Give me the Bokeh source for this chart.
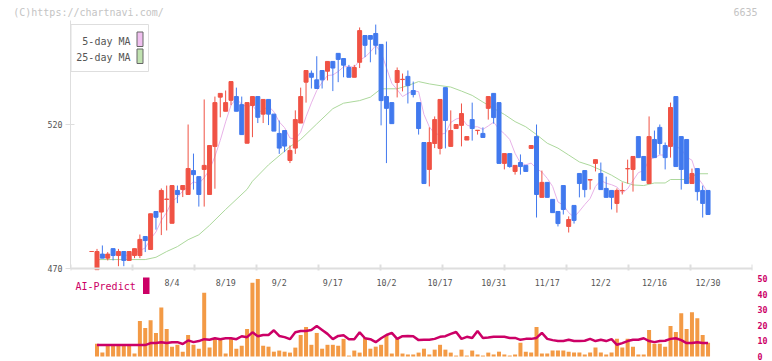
import pandas as pd
from bokeh.plotting import figure
from bokeh.models import Range1d, LinearAxis, FixedTicker, Span, ColumnDataSource
from bokeh.core.properties import value
from bokeh.embed import file_html
from bokeh.resources import INLINE

# ---------------- data ----------------
HOLIDAYS = ["2025-07-21", "2025-08-11", "2025-09-15", "2025-09-23",
            "2025-10-13", "2025-11-03", "2025-11-24"]
dates = pd.bdate_range("2025-07-11", "2025-12-30", freq="C", holidays=HOLIDAYS)
date_labels = [f"{d.month}/{d.day}" for d in dates]

x_tick_labels = ["8/4", "8/19", "9/2", "9/17", "10/2", "10/17",
                 "10/31", "11/17", "12/2", "12/16", "12/30"]

opens = [475.9, 469.6, 475.0, 473.6, 476.9, 474.5, 475.9, 472.8, 474.5, 474.5,
         481.1, 476.6, 489.8, 489.6, 494.0, 485.7, 497.1, 497.4, 495.7, 504.0,
         501.9, 504.4, 495.7, 512.4, 529.5, 524.6, 528.4, 529.7, 526.9, 513.5,
         526.6, 529.7, 523.6, 528.7, 523.6, 516.9, 517.9, 507.5, 511.8, 520.5,
         534.7, 537.8, 535.5, 538.75, 538.5, 541.9, 544.7, 542.9, 539.8, 536.4,
         541.6, 550.9, 550.9, 551.6, 547.8, 529.7, 527.6, 534.6, 535.6, 536.7,
         531.8, 527.6, 513.75, 504.4, 513.4, 511.7, 532.8, 512.4, 518.6, 519.7,
         514.6, 521.7, 517.9, 516.9, 525.6, 530.8, 527.6, 506.5, 509.9, 503.7,
         506.8, 505.8, 511.7, 515.8, 494.7, 499.9, 494.0, 489.8, 498.8, 484.6,
         491.9, 503.0, 504.0, 500.7, 506.5, 503.0, 497.8, 497.1, 492.6, 497.0,
         504.6, 504.4, 515.8, 508.9, 499.5, 514.8, 519.0, 512.7, 512.4, 529.7,
         515.8, 514.8, 499.5, 504.7, 497.1, 497.1]
closes = [475.9, 475.9, 473.6, 475.0, 474.5, 475.9, 472.8, 475.9, 476.9, 480.1,
          479.7, 489.0, 487.8, 497.1, 494.1, 498.8, 495.7, 498.8, 504.7, 502.6,
          495.7, 505.8, 512.7, 527.6, 530.8, 527.6, 534.9, 524.6, 516.5, 527.6,
          529.7, 522.5, 528.7, 523.6, 517.7, 511.8, 512.5, 511.0, 521.7, 529.7,
          538.75, 536.4, 532.5, 535.5, 541.9, 539.6, 542.6, 540.6, 536.4, 539.8,
          552.6, 547.5, 549.6, 547.5, 528.3, 525.6, 520.3, 538.75, 535.7, 533.5,
          530.4, 518.6, 499.5, 513.75, 521.7, 528.7, 521.4, 517.9, 520.0, 523.8,
          515.8, 518.6, 518.0, 515.5, 529.7, 522.4, 506.5, 509.9, 505.4, 505.8,
          505.4, 503.7, 512.7, 495.7, 499.9, 494.7, 489.4, 485.6, 490.5, 487.0,
          486.7, 499.5, 497.4, 500.9, 507.8, 497.4, 494.7, 494.7, 497.1, 497.1,
          504.7, 508.9, 508.5, 500.6, 515.8, 508.5, 513.4, 508.5, 525.9, 505.4,
          504.4, 499.5, 503.0, 496.7, 492.6, 488.75]
highs = [475.9, 476.8, 478.0, 475.7, 476.9, 476.8, 475.9, 475.9, 476.9, 481.8,
         481.1, 489.0, 489.8, 497.8, 498.8, 498.8, 498.8, 498.8, 520.0, 509.9,
         501.9, 528.7, 512.7, 529.7, 530.8, 531.8, 534.9, 532.8, 529.7, 527.6,
         529.7, 529.7, 528.7, 528.7, 523.6, 521.4, 517.9, 512.7, 524.9, 532.8,
         538.75, 538.75, 543.7, 538.75, 541.9, 541.9, 544.7, 542.9, 540.7, 540.7,
         553.7, 550.9, 550.9, 554.7, 547.8, 548.8, 527.6, 539.8, 537.7, 538.75,
         534.9, 527.6, 513.75, 519.0, 522.8, 528.7, 532.8, 524.9, 520.0, 527.3,
         515.8, 527.6, 518.0, 519.0, 529.7, 530.8, 527.6, 509.9, 509.9, 505.8,
         509.6, 505.8, 512.7, 520.0, 504.0, 499.9, 494.0, 489.8, 498.8, 488.1,
         491.9, 503.0, 504.0, 500.9, 507.8, 506.8, 501.9, 497.1, 497.8, 499.9,
         507.8, 508.9, 515.8, 508.9, 522.8, 517.9, 520.0, 513.75, 527.6, 529.7,
         515.8, 514.8, 504.7, 504.7, 498.8, 497.1]
lows = [475.9, 469.5, 473.6, 472.8, 472.8, 470.8, 470.8, 472.8, 473.6, 473.6,
        475.7, 476.6, 483.5, 481.6, 483.2, 485.7, 492.7, 494.8, 495.7, 497.4,
        491.5, 491.5, 495.7, 497.7, 522.5, 524.6, 526.7, 524.6, 516.5, 513.5,
        515.6, 520.5, 520.5, 519.8, 517.7, 509.8, 510.4, 506.6, 509.8, 520.5,
        527.6, 532.5, 532.5, 532.5, 535.3, 531.6, 534.7, 536.4, 536.4, 536.4,
        539.6, 543.4, 541.6, 544.3, 519.7, 506.6, 520.3, 529.4, 531.5, 527.3,
        529.4, 516.5, 499.5, 498.5, 511.8, 509.6, 511.7, 512.4, 518.6, 512.4,
        514.6, 514.4, 516.5, 515.5, 521.7, 520.3, 506.5, 504.4, 505.0, 502.6,
        502.6, 503.7, 511.7, 487.7, 494.7, 494.7, 489.4, 484.6, 488.75, 482.5,
        485.6, 494.7, 494.7, 497.4, 503.7, 497.4, 494.7, 490.5, 489.4, 495.7,
        499.5, 496.7, 508.5, 500.6, 499.5, 508.5, 509.6, 504.4, 508.5, 505.4,
        497.4, 499.5, 499.5, 493.6, 487.7, 488.75]

NaN = float("nan")
ma5 = [NaN, NaN, NaN, NaN,
       475.0, 475.0, 474.4, 474.8, 475.2, 476.3, 477.1, 480.3, 482.7, 486.7,
       489.5, 493.3, 494.7, 496.9, 498.4, 500.1, 499.5, 501.5, 504.3, 508.9,
       514.5, 520.9, 526.7, 529.1, 526.9, 526.2, 526.7, 524.2, 525.0, 526.4,
       524.4, 520.9, 518.9, 515.3, 514.9, 517.3, 522.7, 527.5, 531.8, 534.6,
       537.0, 537.2, 538.4, 540.0, 540.2, 539.8, 542.4, 543.4, 545.2, 547.4,
       545.1, 539.7, 534.3, 532.1, 529.7, 530.8, 531.7, 531.4, 523.5, 519.2,
       516.8, 516.5, 517.0, 520.7, 521.9, 522.4, 519.8, 519.2, 519.2, 518.3,
       519.5, 520.8, 518.4, 516.8, 514.8, 510.0, 506.6, 506.0, 506.6, 504.7,
       503.5, 501.3, 498.5, 493.1, 492.0, 489.4, 487.8, 489.9, 492.2, 494.3,
       498.5, 500.6, 499.6, 499.1, 498.3, 496.2, 497.7, 500.5, 503.3, 504.0,
       507.7, 508.5, 509.4, 509.4, 514.4, 512.3, 511.5, 508.7, 507.6, 501.8,
       499.2, 496.1]

ma25_pos = [1, 10, 12, 14, 16, 18, 20, 22, 25, 29, 30, 33, 37, 39, 42, 45, 47,
            50, 52, 54, 57, 59, 61, 63, 65, 67, 69, 71, 73, 75, 77, 79, 81, 83,
            85, 87, 89, 91, 93, 95, 97, 99, 101, 103, 105, 107, 108, 111, 113, 115]
ma25 = [473.1, 473.1, 473.9, 475.9, 477.6, 480.0, 481.7, 485.0, 490.5, 497.5,
        500.3, 506.0, 512.3, 514.8, 520.2, 525.5, 527.4, 528.3, 529.5, 532.4,
        532.4, 533.5, 534.9, 534.1, 533.5, 533.0, 531.6, 530.1, 527.8, 525.6,
        523.5, 521.0, 519.2, 516.5, 513.5, 511.8, 509.4, 507.0, 505.8, 504.2,
        502.4, 500.2, 499.0, 498.8, 499.7, 499.7, 500.9, 500.9, 502.9, 502.9]

volume = [8.2, 2.5, 6.7, 6.7, 6.7, 6.7, 6.7, 1.9, 22.8, 18.2,
          23.3, 15.1, 31.4, 17.6, 6.3, 7.5, 3.1, 13.8, 7.5, 5.0,
          40.9, 5.7, 11.3, 11.3, 1.9, 11.3, 5.0, 6.9, 17.6, 47.2,
          49.7, 6.9, 6.3, 3.1, 3.8, 3.1, 2.5, 5.7, 13.8, 18.9,
          7.5, 15.1, 5.0, 7.5, 7.5, 6.9, 11.3, 0.6, 3.8, 2.5,
          11.9, 5.0, 6.3, 7.5, 13.8, 1.9, 11.3, 1.9, 1.3, 1.3,
          2.5, 5.0, 1.3, 4.4, 7.5, 4.4, 2.5, 0.6, 4.4, 0.6,
          3.8, 1.3, 0.6, 2.5, 1.3, 3.1, 1.3, 0.6, 1.3, 8.8,
          3.1, 2.5, 18.9, 1.9, 1.9, 3.8, 3.8, 3.8, 3.1, 2.5,
          2.5, 1.3, 2.5, 5.7, 2.5, 1.3, 2.5, 11.3, 5.7, 11.3,
          6.3, 1.3, 1.3, 17.0, 8.2, 8.2, 6.3, 19.5, 15.7, 27.7,
          17.6, 28.3, 24.5, 13.8, 8.8]
ai_predict = [7.3, 7.3, 7.3, 7.3, 7.3, 7.3, 7.3, 7.3, 7.3, 7.3,
              8.6, 8.6, 9.2, 8.6, 9.2, 9.2, 8.0, 10.3, 9.2, 9.9,
              11.1, 10.7, 11.7, 11.1, 11.7, 11.7, 11.1, 13.0, 12.4, 15.5,
              13.0, 13.8, 13.8, 16.8, 13.2, 12.4, 11.1, 15.5, 16.4, 16.4,
              17.0, 19.5, 17.0, 14.5, 11.1, 13.2, 13.6, 11.1, 11.1, 15.5,
              11.7, 11.1, 9.2, 11.7, 13.8, 15.1, 11.3, 13.0, 13.2, 13.0,
              10.5, 10.7, 10.7, 11.3, 12.6, 13.0, 14.5, 15.7, 11.3, 12.6,
              11.9, 16.4, 11.9, 12.2, 12.6, 12.6, 12.6, 11.9, 11.9, 10.7,
              11.3, 11.3, 11.9, 15.1, 11.3, 10.5, 9.9, 9.9, 10.7, 9.9,
              9.9, 10.1, 11.3, 9.9, 10.7, 9.9, 11.1, 7.5, 8.6, 9.9,
              10.7, 10.7, 11.7, 9.9, 9.2, 9.9, 10.1, 11.3, 11.7, 10.5,
              8.6, 8.6, 9.2, 8.6, 8.6]
vol_ticks = [0, 10, 20, 30, 40, 50]
price_ticks = [470, 520]
header_texts = ["(C)https://chartnavi.com/", "6635"]

# ---------------- layout constants (page pixels) ----------------
FONT = "DejaVu Sans Mono"
W, H = 772, 361
FR_L, FR_R, FR_T, FR_B = 70, 752, 20, 361   # frame edges, page px
X1_PX, DX = 96.5, 5.36          # page x of session #1, px per session
Y470_PX, PPU = 268.0, 2.88      # page y of price 470, px per price unit
V0_PX, VPU = 356.0, 1.56        # page y of volume 0, px per volume unit
HEAD_X = [88, 745]              # page x centres of the two header texts

RED, BLUE = "#f05244", "#4179ee"
ORANGE, MAGENTA = "#f39a45", "#cc0066"
PINK, GREEN = "#e8b2e8", "#acd89c"
AXIS_GRAY, TEXT_GRAY = "#dedede", "#555555"


def xd(px):
    return 1 + (px - X1_PX) / DX


def yd(py):
    return 470 + (Y470_PX - py) / PPU


p = figure(width=W, height=H, output_backend="svg", toolbar_location=None,
           title=None, x_axis_location=None, y_axis_location="left",
           x_range=Range1d(xd(FR_L), xd(FR_R)),
           y_range=Range1d(yd(FR_B), yd(FR_T)),
           min_border_left=FR_L, min_border_right=W - FR_R,
           min_border_top=FR_T, min_border_bottom=H - FR_B,
           background_fill_color="white", border_fill_color="white")
p.outline_line_color = None
p.grid.grid_line_color = None
p.extra_y_ranges = {"vol": Range1d(-(FR_B - V0_PX) / VPU, (V0_PX - FR_T) / VPU)}
p.extra_x_ranges = {"px": Range1d(FR_L, FR_R)}

pos = list(range(len(dates)))

# moving averages (behind candles)
p.line(ma25_pos, ma25, line_color=GREEN, line_width=1)
p.line(pos, ma5, line_color=PINK, line_width=1)

# candles
colors = [RED if c >= o else BLUE for o, c in zip(opens, closes)]
src = ColumnDataSource(dict(
    x=pos, high=highs, low=lows,
    top=[max(o, c) for o, c in zip(opens, closes)],
    bottom=[min(o, c) for o, c in zip(opens, closes)],
    color=colors))
p.segment(x0="x", y0="high", x1="x", y1="low", line_color="color",
          line_width=1, source=src)
p.vbar(x="x", top="top", bottom="bottom", width=4 / DX, fill_color="color",
       line_color="color", line_width=1, source=src)

# volume panel
vpos = pos[1:]
p.vbar(x=vpos, top=volume, bottom=0, width=4 / DX, fill_color=ORANGE,
       line_color=None, y_range_name="vol")
p.line(vpos, ai_predict, line_color=MAGENTA, line_width=2.5, y_range_name="vol")

# price axis (left)
ax = p.yaxis[0]
ax.ticker = FixedTicker(ticks=price_ticks)
ax.bounds = (470, yd(FR_T))
ax.axis_line_color = AXIS_GRAY
ax.major_tick_line_color = AXIS_GRAY
ax.major_tick_in = 4
ax.major_tick_out = 5
ax.minor_tick_line_color = None
ax.major_label_text_color = TEXT_GRAY
ax.major_label_text_font = FONT
ax.major_label_text_font_size = "8.3px"
ax.major_label_standoff = 3

# volume axis (right)
vax = LinearAxis(y_range_name="vol", ticker=FixedTicker(ticks=vol_ticks),
                 axis_line_color=None, major_tick_line_color=None,
                 minor_tick_line_color=None, major_tick_in=0, major_tick_out=0,
                 major_label_text_color=MAGENTA, major_label_text_font=FONT,
                 major_label_text_font_size="8.3px",
                 major_label_text_font_style="bold", major_label_standoff=5)
p.add_layout(vax, "right")

# header line (copyright + code) as an unlined top axis
hax = LinearAxis(x_range_name="px", ticker=FixedTicker(ticks=HEAD_X),
                 major_label_overrides={HEAD_X[0]: header_texts[0],
                                        HEAD_X[1]: header_texts[1]},
                 axis_line_color=None, major_tick_line_color=None,
                 minor_tick_line_color=None, major_tick_in=0, major_tick_out=0,
                 major_label_text_color="#c4c4c4", major_label_text_font=FONT,
                 major_label_text_font_size="10px", major_label_standoff=3)
p.add_layout(hax, "above")

# date axis between the panels
p.add_layout(Span(location=470, dimension="width", line_color=AXIS_GRAY,
                  line_width=2))
tick_x = [xd(FR_L + 62 * k) for k in range(12)]
p.segment(x0=tick_x, y0=yd(264), x1=tick_x, y1=yd(270), line_color=AXIS_GRAY,
          line_width=2)
label_pos = [date_labels.index(lbl) for lbl in x_tick_labels]
p.text(x=label_pos, y=[yd(282)] * len(label_pos), text=x_tick_labels,
       text_font=value(FONT), text_font_size=value("8.3px"),
       text_color=TEXT_GRAY, text_align="center", text_baseline="middle")

# moving-average legend
p.quad(left=xd(70.5), right=xd(148), top=yd(24), bottom=yd(71),
       fill_color="white", line_color=AXIS_GRAY, line_width=1)
p.text(x=[xd(130), xd(130)], y=[yd(41), yd(57)], text=["5-day MA", "25-day MA"],
       text_font=value(FONT), text_font_size=value("10px"), text_color=TEXT_GRAY,
       text_align="right", text_baseline="middle")
p.quad(left=xd(136.5), right=xd(142.5), top=[yd(31.5), yd(48.5)],
       bottom=[yd(46), yd(63)], fill_color=["#f0c0f0", "#c0e2b0"],
       line_color="#666666", line_width=1)

# AI-Predict legend
p.text(x=[xd(75)], y=[yd(286)], text=["AI-Predict"], text_font=value(FONT),
       text_font_size=value("10px"), text_color=MAGENTA, text_align="left",
       text_baseline="middle")
p.quad(left=xd(142.5), right=xd(149), top=yd(277), bottom=yd(293.5),
       fill_color=MAGENTA, line_color=None)

open("out.html", "w").write(file_html(p, INLINE))
